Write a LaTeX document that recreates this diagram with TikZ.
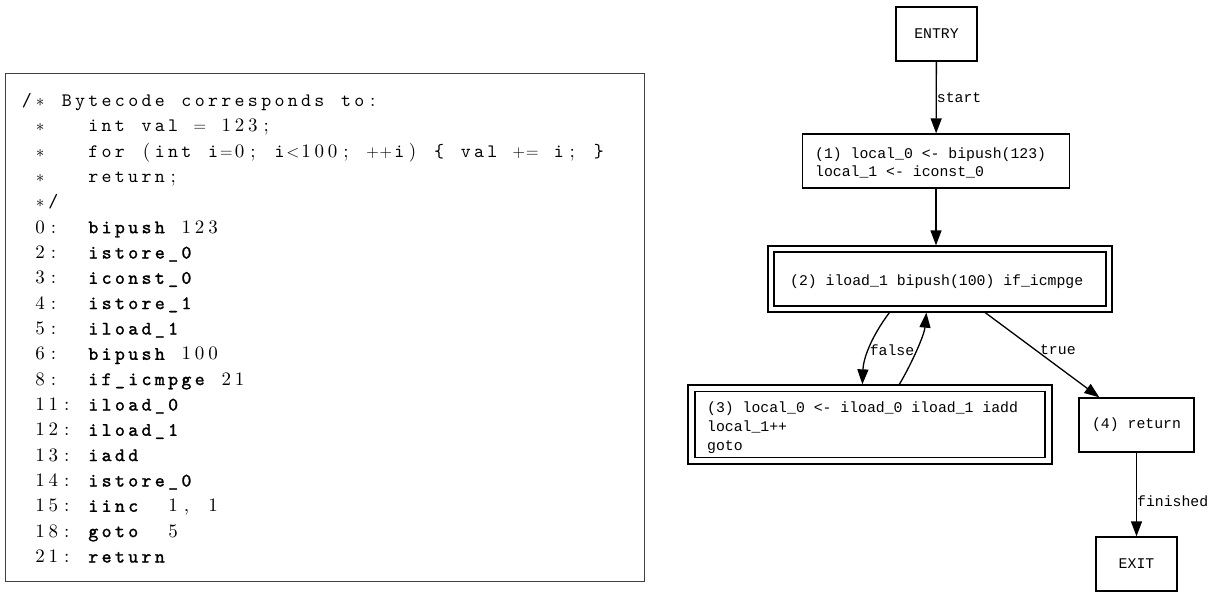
\documentclass[tikz,border=0pt]{standalone}
\usepackage{fontspec}
\usetikzlibrary{arrows.meta,calc}

\newfontfamily\graphfont{Liberation Mono}
\newfontfamily\codett{lmmono10-regular.otf}
\newfontfamily\codettb{lmmono10-regular.otf}[FakeBold=1.4]
\newfontfamily\coderm{lmroman10-regular.otf}

% Fixed-pitch listing line: every character sits in a cell of equal width,
% digits and punctuation in roman, relations in math, '|' toggles bold
% typewriter (identifiers), '.' stands for one blank cell.
\ExplSyntaxOn
\dim_new:N \l_cl_pitch_dim
\dim_set:Nn \l_cl_pitch_dim {13.3pt}
\bool_new:N \g_cl_bold_bool
\str_const:Nn \c_cl_rm_str {0123456789:;,()}
\str_const:Nn \c_cl_math_str {=<+}
\cs_new_protected:Npn \cl_glyph:n #1
 {
  \bool_if:NTF \g_cl_bold_bool
   { \codettb #1 }
   {
    \str_if_in:NnTF \c_cl_rm_str {#1}
     { \coderm #1 }
     {
      \str_if_in:NnTF \c_cl_math_str {#1}
       { $#1$ }
       {
        \str_if_eq:nnTF {#1} {*}
         { $\ast$ }
         { \codett #1 }
       }
     }
   }
 }
\cs_new_protected:Npn \cl_char:n #1
 {
  \str_if_eq:nnTF {#1} {|}
   { \bool_gset_inverse:N \g_cl_bold_bool }
   {
    \str_if_eq:nnTF {#1} {.}
     { \hbox_to_wd:nn { \l_cl_pitch_dim } { \hfil } }
     { \hbox_to_wd:nn { \l_cl_pitch_dim } { \hss \cl_glyph:n {#1} \hss } }
   }
 }
\NewDocumentCommand \codeline { m }
 {
  \bool_gset_false:N \g_cl_bold_bool
  \str_map_inline:nn {#1} { \cl_char:n {##1} }
 }
\ExplSyntaxOff

\tikzset{
  listingframe/.style={draw=black!75, line width=1.2pt, inner sep=0pt,
    minimum width=639pt, minimum height=508pt, anchor=north west},
  codeln/.style={anchor=base west, inner sep=0pt,
    font=\fontsize{19}{23}\selectfont},
  gbox/.style={draw, line width=1.3pt, inner sep=0pt,
    font=\graphfont\fontsize{14.8}{19}\selectfont},
  gtext/.style={anchor=base west, inner sep=0pt,
    font=\graphfont\fontsize{14.8}{19}\selectfont},
  elabel/.style={inner sep=0pt, font=\graphfont\fontsize{14.8}{19}\selectfont},
  arr/.style={-{Triangle[length=15pt,width=11pt]}, line width=1.3pt},
}

\begin{document}
\begin{tikzpicture}[x=1pt, y=-1pt]
\useasboundingbox (0,0) rectangle (1224,592);

% ---------------- bytecode listing ----------------
\node[listingframe] (listing) at (5,73) {};
\node[codeln] (c1)  at (20,106.5) {\codeline{/*.Bytecode.corresponds.to:}};
\node[codeln] (c2)  at (20,131.8) {\codeline{.*...int.val.=.123;}};
\node[codeln] (c3)  at (20,157.2) {\codeline{.*...for.(int.i=0;.i<100;.++i).{.val.+=.i;.}}};
\node[codeln] (c4)  at (20,182.5) {\codeline{.*...return;}};
\node[codeln] (c5)  at (20,207.8) {\codeline{.*/}};
\node[codeln] (c6)  at (20,233.2) {\codeline{.0:..|bipush|.123}};
\node[codeln] (c7)  at (20,258.5) {\codeline{.2:..|istore_0|}};
\node[codeln] (c8)  at (20,283.8) {\codeline{.3:..|iconst_0|}};
\node[codeln] (c9)  at (20,309.1) {\codeline{.4:..|istore_1|}};
\node[codeln] (c10) at (20,334.5) {\codeline{.5:..|iload_1|}};
\node[codeln] (c11) at (20,359.8) {\codeline{.6:..|bipush|.100}};
\node[codeln] (c12) at (20,385.1) {\codeline{.8:..|if_icmpge|.21}};
\node[codeln] (c13) at (20,410.5) {\codeline{.11:.|iload_0|}};
\node[codeln] (c14) at (20,435.8) {\codeline{.12:.|iload_1|}};
\node[codeln] (c15) at (20,461.1) {\codeline{.13:.|iadd|}};
\node[codeln] (c16) at (20,486.5) {\codeline{.14:.|istore_0|}};
\node[codeln] (c17) at (20,511.8) {\codeline{.15:.|iinc|..1,.1}};
\node[codeln] (c18) at (20,537.1) {\codeline{.18:.|goto|..5}};
\node[codeln] (c19) at (20,562.5) {\codeline{.21:.|return|}};

% ---------------- control flow graph ----------------
\node[gbox, minimum width=81pt, minimum height=54pt] (entry) at (936.5,34) {ENTRY};

\node[gbox, minimum width=267pt, minimum height=54pt] (n1) at (936,161) {};
\node[gtext] (n1a) at (815,158) {(1) local\_0 <- bipush(123)};
\node[gtext] (n1b) at (815,176) {local\_1 <- iconst\_0};

\node[gbox, minimum width=344pt, minimum height=66pt] (n2o) at (940,279) {};
\node[gbox, minimum width=332pt, minimum height=54pt] (n2) at (940,279) {};
\node[gtext] (n2a) at (790,285) {(2) iload\_1 bipush(100) if\_icmpge};

\node[gbox, minimum width=364pt, minimum height=79pt] (n3o) at (870,424.5) {};
\node[gbox, minimum width=350pt, minimum height=66pt] (n3) at (870,424.5) {};
\node[gtext] (n3a) at (707,412) {(3) local\_0 <- iload\_0 iload\_1 iadd};
\node[gtext] (n3b) at (707,431) {local\_1++};
\node[gtext] (n3c) at (707,450) {goto};

\node[gbox, minimum width=115pt, minimum height=54pt] (n4) at (1136.5,425) {(4) return};

\node[gbox, minimum width=81pt, minimum height=54pt] (exit) at (1136.5,564) {EXIT};

% edges
\draw[arr] (entry) -- node[elabel, anchor=west, pos=0.5] (lstart) {start} (n1);
\draw[arr] (n1.south) -- (n1.south |- n2o.north);
\draw[arr] ($(n2o.south west)+(122,0)$)
  .. controls ($(n2o.south west)+(104,24)$) and ($(n3o.north west)+(176,-26)$)
  .. ($(n3o.north west)+(175,0)$);
\node[elabel] (lfalse) at (892,350) {false};
\draw[arr] ($(n3o.north west)+(212,0)$)
  .. controls ($(n3o.north west)+(225,-22)$) and ($(n2o.south west)+(157,22)$)
  .. ($(n2o.south west)+(159,0)$);
\draw[arr] (n2o) -- node[elabel, anchor=west, pos=0.44, xshift=4pt] (ltrue) {true} (n4);
\draw[arr] (n4) -- node[elabel, anchor=west, pos=0.58] (lfinished) {finished} (exit);
\end{tikzpicture}
\end{document}
